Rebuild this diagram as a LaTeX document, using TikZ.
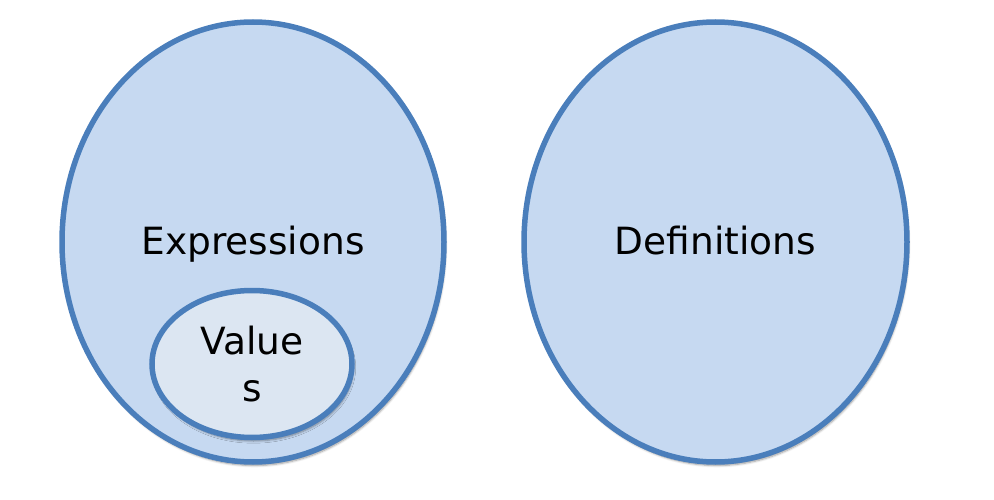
\documentclass[tikz,border=0pt]{standalone}
\usepackage{fontspec}
\setmainfont{DejaVu Sans}
\usetikzlibrary{shapes.geometric,shadows.blur}
\definecolor{setfill}{HTML}{C6D9F1}
\definecolor{subfill}{HTML}{DCE6F2}
\definecolor{setline}{HTML}{4A7EBB}
\tikzset{
  setshape/.style={ellipse, draw=setline, line width=5.5pt, fill=setfill,
    blur shadow={shadow xshift=1.5pt, shadow yshift=-3.5pt, shadow blur steps=6, shadow opacity=40},
    inner sep=0pt, font=\fontsize{37.5}{47}\selectfont},
  subshape/.style={setshape, fill=subfill, align=center}
}
\begin{document}
\begin{tikzpicture}[x=1pt,y=-1pt]
\useasboundingbox (0,0) rectangle (994,500);
\node[setshape, minimum width=382pt, minimum height=440pt, text depth=4pt] (expr) at (253,242) {Expressions};
\node[setshape, minimum width=383pt, minimum height=440pt, text depth=4pt] (defs) at (715.5,242) {Definitions};
\node[subshape, minimum width=200pt, minimum height=147pt] (vals) at (252,364) {Value\\s};
\end{tikzpicture}
\end{document}
